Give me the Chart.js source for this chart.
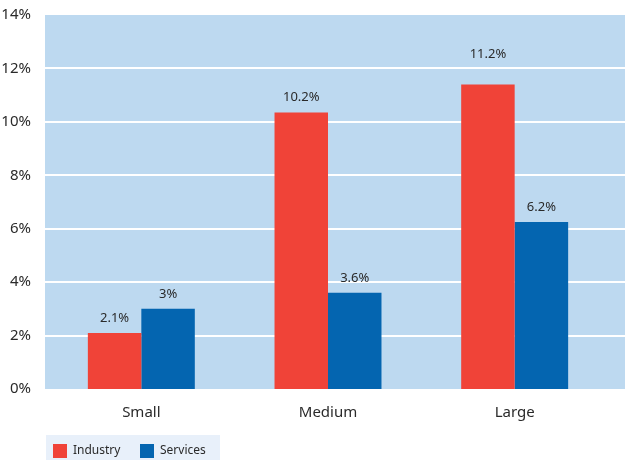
<!DOCTYPE html>
<html>
<head>
<meta charset="utf-8">
<script src="https://cdn.jsdelivr.net/npm/chart.js@4.4.1/dist/chart.umd.min.js"></script>
<style>
  html, body { margin: 0; padding: 0; background: #fff; }
  #wrap { width: 625px; height: 460px; }
</style>
</head>
<body>
<div id="wrap"><canvas id="chart" width="625" height="460"></canvas></div>
<script>
// data
var categories = ['Small', 'Medium', 'Large'];
var industry = [2.1, 10.35, 11.4];
var services = [3.0, 3.6, 6.25];
var industryLabels = ['2.1%', '10.2%', '11.2%'];
var servicesLabels = ['3%', '3.6%', '6.2%'];
var yTicks = [0, 2, 4, 6, 8, 10, 12, 14];

var FONT = '"Noto Sans", sans-serif';
var TEXT = '#2a2a2a';
// extra lift of the value labels (the 11.2% one sits higher in the original)
var labelLift = [[0, 0, 15], [0, 0, 0]];

var panel = {
  id: 'panel',
  // light blue panel + white grid lines, behind the bars
  beforeDatasetsDraw: function (chart) {
    var c = chart.ctx, a = chart.chartArea, y = chart.scales.y;
    c.save();
    c.fillStyle = '#bdd9f0';
    c.fillRect(45, a.top, chart.width - 45, a.bottom - a.top);
    c.strokeStyle = '#ffffff';
    c.lineWidth = 2;
    yTicks.forEach(function (t) {
      if (t === 0 || t === 14) return;
      var py = Math.round(y.getPixelForValue(t));
      c.beginPath();
      c.moveTo(45, py);
      c.lineTo(chart.width, py);
      c.stroke();
    });
    c.restore();
  },
  afterDatasetsDraw: function (chart) {
    var c = chart.ctx;
    c.save();
    c.font = '13px ' + FONT;
    c.fillStyle = TEXT;
    c.textAlign = 'center';
    c.textBaseline = 'middle';
    var texts = [industryLabels, servicesLabels];
    chart.data.datasets.forEach(function (ds, i) {
      chart.getDatasetMeta(i).data.forEach(function (bar, j) {
        c.fillText(texts[i][j], bar.x, bar.y - 15 - labelLift[i][j]);
      });
    });
    // legend strip at the bottom left
    var top = chart.height - 25;
    c.font = '12px ' + FONT;
    c.fillStyle = '#e8f0fa';
    c.fillRect(46, top, 174, 25);
    var x = 53;
    c.textAlign = 'left';
    chart.data.datasets.forEach(function (ds) {
      c.fillStyle = ds.backgroundColor;
      c.fillRect(x, top + 9, 14, 14);
      c.fillStyle = TEXT;
      c.fillText(ds.label, x + 20, top + 16);
      x += 87;
    });
    c.restore();
  }
};

new Chart(document.getElementById('chart'), {
  type: 'bar',
  data: {
    labels: categories,
    datasets: [
      { label: 'Industry', data: industry, backgroundColor: '#f04338' },
      { label: 'Services', data: services, backgroundColor: '#0465b0' }
    ]
  },
  options: {
    responsive: false,
    animation: false,
    devicePixelRatio: 1,
    layout: { padding: { top: 15, right: 17, left: 0, bottom: 31 } },
    datasets: { bar: { categoryPercentage: 0.573, barPercentage: 1.0 } },
    scales: {
      x: {
        grid: { display: false },
        border: { display: false },
        ticks: { color: TEXT, font: { family: FONT, size: 15 }, padding: 7 }
      },
      y: {
        min: 0, max: 14,
        afterFit: function (s) { s.width = 48; s.paddingTop = 0; s.paddingBottom = 0; },
        afterBuildTicks: function (s) { s.ticks = yTicks.map(function (v) { return { value: v }; }); },
        grid: { display: false },
        border: { display: false },
        ticks: {
          color: TEXT, font: { family: FONT, size: 15 }, padding: 9,
          callback: function (v) { return v + '%'; }
        }
      }
    },
    plugins: {
      tooltip: { enabled: false },
      legend: { display: false }
    }
  },
  plugins: [panel]
});
</script>
</body>
</html>
